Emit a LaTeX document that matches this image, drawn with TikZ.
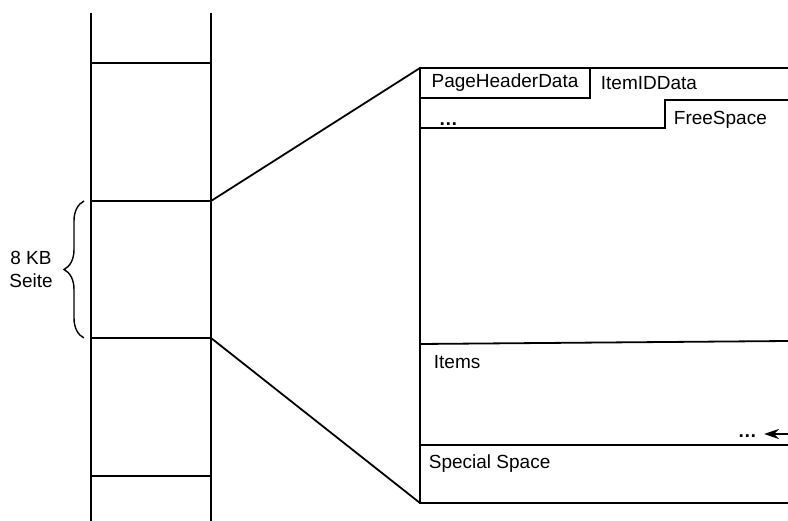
\documentclass[tikz,border=0pt]{standalone}
\usepackage{fontspec}
\setmainfont{Liberation Sans}
\usetikzlibrary{arrows.meta,decorations.pathreplacing}

\begin{document}
\begin{tikzpicture}[x=1pt,y=-1pt,line width=1.8pt,>={Stealth[length=15pt,width=10pt]},
  lbl/.style={font=\fontsize{19}{23}\selectfont,inner sep=0pt}]
  \useasboundingbox (0,0) rectangle (788,521);

  % Storage column
  \draw (91,13) -- (91,521);
  \draw (211,13) -- (211,521);
  \foreach \y in {63,201,338,476}
     \draw (91,\y) -- (211,\y);

  % Page inside the column
  \coordinate (Ptop) at (211,201);
  \coordinate (Pbot) at (211,338);

  % Enlarged page
  \coordinate (Ztop) at (420,68);
  \coordinate (Zbot) at (420,503);
  \draw (Ptop) -- (Ztop);
  \draw (Pbot) -- (Zbot);
  \draw (788,68) -- (Ztop) -- (Zbot) -- (788,503);

  % Header and free space border
  \draw (420,98) -- (590,98) -- (590,68);
  \draw (420,128) -- (665,128) -- (665,100) -- (788,100);

  % Items and special space
  \draw (420,344) -- (788,341);
  \draw (420,445) -- (788,445);

  % Labels
  \node[lbl] (phd) at (505,83) {PageHeaderData};
  \node[lbl,anchor=west] (iid) at (600,83) {ItemIDData};
  \node[lbl,anchor=base west] (dotsA) at (438,126) {\textbf{…}};
  \node[lbl,anchor=west] (fs) at (673,120) {FreeSpace};
  \node[lbl,anchor=west] (items) at (433,362) {Items};
  \node[lbl,anchor=base west] (dotsB) at (737,438) {\textbf{…}};
  \node[lbl,anchor=west] (spec) at (428,464) {Special Space};

  % Growing items
  \coordinate (arrE) at (788,434);
  \coordinate (arrW) at (764,434);
  \draw[->] (arrE) -- (arrW);

  % Page size
  \draw[line width=1.4pt,decorate,decoration={brace,amplitude=20pt}] (84,338) -- (84,201);
  \node[lbl,align=center] (size) at (31,269) {8 KB\\Seite};
\end{tikzpicture}
\end{document}
